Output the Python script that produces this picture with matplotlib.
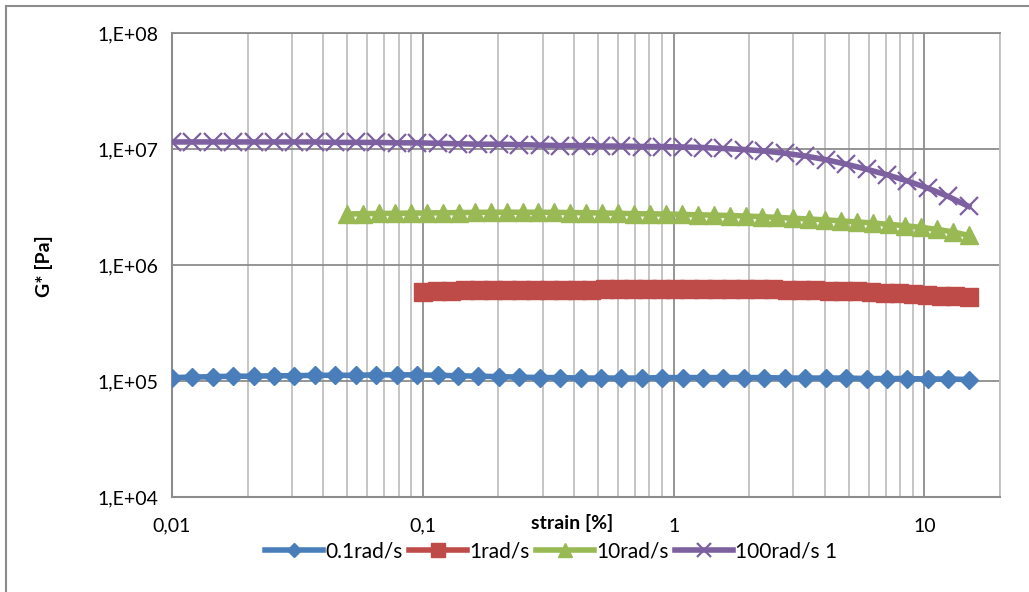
import matplotlib
matplotlib.use('Agg')
import matplotlib.pyplot as plt
from matplotlib.ticker import FixedLocator, FixedFormatter, LogLocator, NullFormatter
from matplotlib.patches import Rectangle

# strain [%] for each sweep
strain_01 = [0.01, 0.01206, 0.01454, 0.01754, 0.02116, 0.02551, 0.03077, 0.03711,
             0.04482, 0.05405, 0.06521, 0.07865, 0.09491, 0.1145, 0.1381, 0.1665,
             0.2009, 0.2423, 0.2923, 0.3526, 0.4254, 0.5131, 0.6189, 0.7467,
             0.9005, 1.086, 1.310, 1.580, 1.907, 2.300, 2.774, 3.346,
             4.036, 4.869, 5.873, 7.086, 8.548, 10.31, 12.43, 15.0]
strain_1 = [0.1, 0.1137, 0.1293, 0.147, 0.1672, 0.1901, 0.2162, 0.2458,
            0.2796, 0.3179, 0.3614, 0.411, 0.4673, 0.5314, 0.6042, 0.6871,
            0.7813, 0.8884, 1.010, 1.149, 1.306, 1.485, 1.689, 1.920,
            2.184, 2.483, 2.823, 3.210, 3.651, 4.151, 4.720, 5.367,
            6.103, 6.940, 7.891, 8.973, 10.20, 11.60, 13.19, 15.0]
strain_10 = [0.05, 0.05787, 0.06698, 0.07753, 0.08973, 0.1039, 0.1202, 0.1391,
             0.1611, 0.1864, 0.2158, 0.2497, 0.2890, 0.3346, 0.3872, 0.4482,
             0.5188, 0.6005, 0.6950, 0.8045, 0.9312, 1.078, 1.248, 1.444,
             1.672, 1.935, 2.240, 2.592, 3.001, 3.475, 4.022, 4.655,
             5.389, 6.237, 7.220, 8.357, 9.672, 11.19, 12.96, 15.0]
strain_100 = strain_01

# G* [Pa]
g_01 = [1.07e5, 1.08e5, 1.09e5, 1.10e5, 1.10e5, 1.11e5, 1.11e5, 1.12e5,
        1.12e5, 1.12e5, 1.13e5, 1.13e5, 1.13e5, 1.12e5, 1.11e5, 1.10e5,
        1.09e5, 1.08e5, 1.07e5, 1.07e5, 1.06e5, 1.06e5, 1.06e5, 1.06e5,
        1.07e5, 1.07e5, 1.07e5, 1.07e5, 1.07e5, 1.07e5, 1.06e5, 1.06e5,
        1.06e5, 1.06e5, 1.05e5, 1.05e5, 1.05e5, 1.04e5, 1.04e5, 1.03e5]
g_1 = [5.90e5, 5.95e5, 6.00e5, 6.03e5, 6.05e5, 6.07e5, 6.08e5, 6.09e5,
       6.10e5, 6.11e5, 6.12e5, 6.13e5, 6.14e5, 6.15e5, 6.16e5, 6.17e5,
       6.18e5, 6.19e5, 6.20e5, 6.20e5, 6.20e5, 6.20e5, 6.19e5, 6.18e5,
       6.17e5, 6.15e5, 6.13e5, 6.10e5, 6.06e5, 6.02e5, 5.97e5, 5.91e5,
       5.84e5, 5.76e5, 5.68e5, 5.60e5, 5.52e5, 5.44e5, 5.36e5, 5.28e5]
g_10 = [2.75e6, 2.77e6, 2.78e6, 2.79e6, 2.80e6, 2.81e6, 2.82e6, 2.83e6,
        2.84e6, 2.85e6, 2.85e6, 2.85e6, 2.85e6, 2.84e6, 2.83e6, 2.82e6,
        2.81e6, 2.79e6, 2.77e6, 2.76e6, 2.75e6, 2.73e6, 2.71e6, 2.69e6,
        2.67e6, 2.64e6, 2.61e6, 2.57e6, 2.53e6, 2.49e6, 2.45e6, 2.40e6,
        2.35e6, 2.30e6, 2.24e6, 2.18e6, 2.11e6, 2.03e6, 1.93e6, 1.80e6]
g_100 = [1.15e7, 1.15e7, 1.15e7, 1.15e7, 1.15e7, 1.15e7, 1.15e7, 1.15e7,
         1.14e7, 1.14e7, 1.14e7, 1.13e7, 1.13e7, 1.12e7, 1.11e7, 1.10e7,
         1.10e7, 1.09e7, 1.08e7, 1.07e7, 1.07e7, 1.06e7, 1.06e7, 1.05e7,
         1.05e7, 1.04e7, 1.03e7, 1.01e7, 9.9e6, 9.6e6, 9.2e6, 8.7e6,
         8.1e6, 7.4e6, 6.7e6, 6.0e6, 5.3e6, 4.6e6, 3.9e6, 3.2e6]

series = [
    ('0.1rad/s', strain_01, g_01, '#4a7ebb', 'D', 9.5),
    ('1rad/s', strain_1, g_1, '#be4b48', 's', 13),
    ('10rad/s', strain_10, g_10, '#98b954', '^', 13),
    ('100rad/s 1', strain_100, g_100, '#7d60a0', 'x', 12.5),
]

xticks = [0.01, 0.1, 1, 10]
xticklabels = ['0,01', '0,1', '1', '10']
yticks = [1e4, 1e5, 1e6, 1e7, 1e8]
yticklabels = ['1,E+04', '1,E+05', '1,E+06', '1,E+07', '1,E+08']

plt.rcParams['font.family'] = ['Lato', 'DejaVu Sans']

fig = plt.figure(figsize=(10.29, 5.92), dpi=100)
ax = fig.add_axes([172/1029, 1 - 497/592, 828/1029, 464/592])

# outer chart frame
fig.patches.append(Rectangle((6/1029, -0.1), 1.2, 1 - 5.5/592 + 0.1, transform=fig.transFigure,
                             fill=False, edgecolor='#8c8c8c', linewidth=1.5))

for name, xs, ys, col, mk, ms in series:
    if mk == 'x':
        ax.plot(xs, ys, color=col, lw=4, marker=mk, ms=ms, mew=1.6, label=name, zorder=3)
    else:
        ax.plot(xs, ys, color=col, lw=4, marker=mk, ms=ms, mec=col, label=name, zorder=3)

ax.set_xscale('log')
ax.set_yscale('log')
ax.set_xlim(0.01, 20)
ax.set_ylim(1e4, 1e8)

ax.xaxis.set_major_locator(FixedLocator(xticks))
ax.xaxis.set_major_formatter(FixedFormatter(xticklabels))
ax.xaxis.set_minor_locator(LogLocator(base=10, subs=range(2, 10), numticks=20))
ax.xaxis.set_minor_formatter(NullFormatter())
ax.yaxis.set_major_locator(FixedLocator(yticks))
ax.yaxis.set_major_formatter(FixedFormatter(yticklabels))
ax.yaxis.set_minor_locator(FixedLocator([]))

ax.grid(which='major', axis='both', color='#8c8c8c', lw=1.3, zorder=0)
ax.grid(which='minor', axis='x', color='#c0c0c0', lw=1.3, zorder=0)
ax.set_axisbelow(True)

for s in ['left', 'bottom']:
    ax.spines[s].set_color('#8c8c8c')
    ax.spines[s].set_linewidth(1.5)
ax.spines['top'].set_color('#8c8c8c')
ax.spines['top'].set_linewidth(1.3)
ax.spines['right'].set_color('#c0c0c0')
ax.spines['right'].set_linewidth(1.3)

ax.tick_params(which='both', length=0, labelsize=14, colors='black')
ax.tick_params(axis='x', pad=15)
ax.tick_params(axis='y', pad=10)

ax.text(0.4831, -0.056, 'strain [%]', transform=ax.transAxes, ha='center', va='center',
        fontsize=14, fontweight='bold')
fig.text(44/1029, 1 - 266/592, 'G* [Pa]', rotation=90, ha='center', va='center',
         fontsize=14, fontweight='bold')

fig.legend(loc='center', bbox_to_anchor=(551/1029, 1 - 551/592), ncol=4, frameon=False,
           fontsize=15, handlelength=2.8, handletextpad=0.1, columnspacing=0.3,
           markerscale=0.8)

fig.savefig('out.png', dpi=100)
